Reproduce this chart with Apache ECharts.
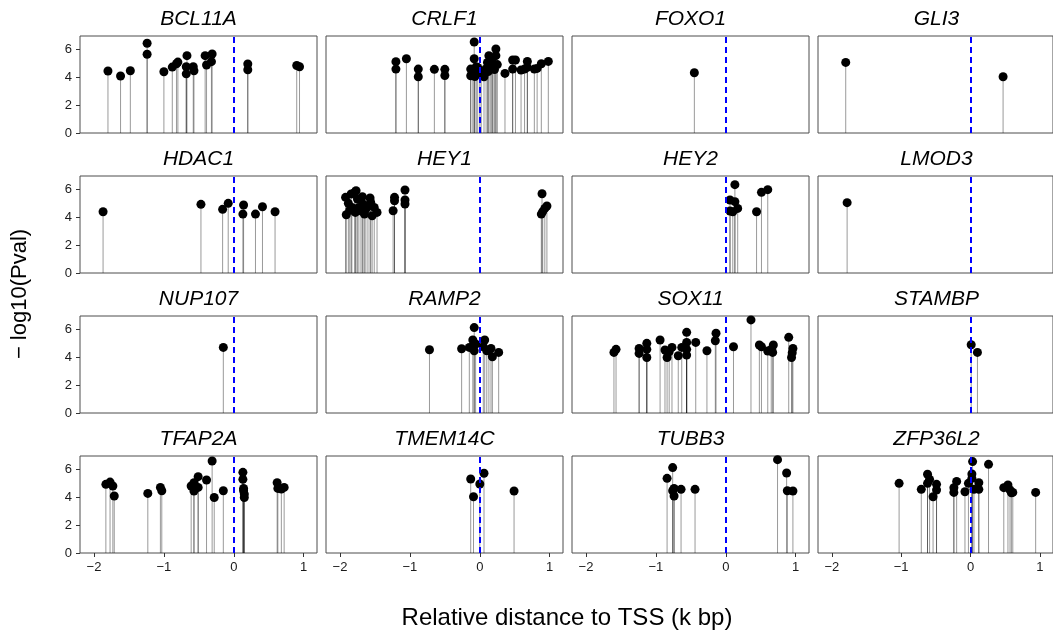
<!DOCTYPE html>
<html>
<head>
<meta charset="utf-8">
<script src="https://cdn.jsdelivr.net/npm/echarts@6/dist/echarts.min.js"></script>
<style>
  html, body { margin: 0; padding: 0; background: #fff; }
  #main { width: 1053px; height: 633px; }
</style>
</head>
<body>
<div id="main"></div>
<script>
// panel order (4 x 4 facets)
const genes = ['BCL11A', 'CRLF1', 'FOXO1', 'GLI3', 'HDAC1', 'HEY1', 'HEY2', 'LMOD3',
  'NUP107', 'RAMP2', 'SOX11', 'STAMBP', 'TFAP2A', 'TMEM14C', 'TUBB3', 'ZFP36L2']

const xTicks = [-2, -1, 0, 1]
const yTicks = [0, 2, 4, 6]

// [relative distance to TSS (k bp), -log10(Pval)]
const BCL11A = [[-1.80, 4.44], [-1.62, 4.08], [-1.48, 4.46], [-1.24, 6.43], [-1.24, 5.64], [-1.00, 4.39],
  [-0.88, 4.72], [-0.82, 4.96], [-0.80, 5.08], [-0.67, 5.54], [-0.68, 4.75], [-0.68, 4.24], [-0.58, 4.75],
  [-0.57, 4.46], [-0.41, 5.54], [-0.39, 4.87], [-0.32, 5.11], [-0.31, 5.66], [0.20, 4.94], [0.20, 4.53],
  [0.90, 4.84], [0.94, 4.75]]
const CRLF1 = [[-1.20, 5.11], [-1.20, 4.58], [-1.05, 5.32], [-0.88, 4.58], [-0.88, 4.03], [-0.65, 4.56],
  [-0.50, 4.56], [-0.50, 4.12], [-0.08, 6.52], [-0.08, 5.32], [-0.13, 4.58], [-0.13, 4.10], [-0.10, 4.40],
  [-0.05, 4.75], [-0.03, 4.70], [0.00, 4.50], [0.02, 4.20], [-0.07, 4.05], [0.06, 4.03], [0.09, 4.60],
  [0.11, 5.06], [0.13, 5.54], [0.15, 4.80], [0.17, 5.20], [0.19, 4.70], [0.21, 4.55], [0.23, 6.02],
  [0.23, 5.54], [0.18, 4.87], [0.25, 4.90], [0.12, 4.40], [0.36, 4.27], [0.47, 5.23], [0.51, 5.23],
  [0.47, 4.58], [0.59, 4.51], [0.64, 4.58], [0.68, 5.13], [0.68, 4.70], [0.78, 4.58], [0.82, 4.63],
  [0.88, 4.96], [0.98, 5.13]]
const FOXO1 = [[-0.45, 4.32]]
const GLI3 = [[-1.80, 5.06], [0.47, 4.03]]
const HDAC1 = [[-1.87, 4.39], [-0.47, 4.92], [-0.16, 4.56], [-0.08, 4.99], [0.14, 4.87], [0.13, 4.22],
  [0.31, 4.22], [0.41, 4.75], [0.59, 4.39]]
const HEY1 = [[-1.92, 5.42], [-1.91, 4.17], [-1.88, 4.99], [-1.84, 5.66], [-1.79, 5.78], [-1.77, 5.90],
  [-1.83, 4.70], [-1.78, 4.34], [-1.75, 5.30], [-1.73, 4.70], [-1.68, 5.47], [-1.67, 4.94], [-1.65, 4.22],
  [-1.63, 4.58], [-1.57, 5.37], [-1.56, 5.06], [-1.54, 4.10], [-1.51, 4.70], [-1.47, 4.34], [-1.86, 4.50],
  [-1.70, 4.45], [-1.60, 4.80], [-1.24, 4.46], [-1.22, 5.42], [-1.22, 5.18], [-1.07, 5.95], [-1.07, 5.23],
  [-1.07, 4.94], [0.89, 5.68], [0.88, 4.22], [0.90, 4.40], [0.93, 4.63], [0.96, 4.80]]
const HEY2 = [[0.13, 6.33], [0.06, 5.23], [0.13, 5.11], [0.06, 4.44], [0.10, 4.39], [0.17, 4.63],
  [0.44, 4.39], [0.51, 5.78], [0.60, 5.97]]
const LMOD3 = [[-1.78, 5.04]]
const NUP107 = [[-0.15, 4.70]]
const RAMP2 = [[-0.72, 4.53], [-0.26, 4.60], [-0.15, 4.70], [-0.08, 6.12], [-0.10, 5.23], [-0.08, 4.46],
  [-0.06, 4.94], [0.07, 5.23], [0.05, 4.75], [0.10, 4.46], [0.16, 4.63], [0.18, 4.03], [0.27, 4.34],
  [0.13, 4.50]]
const SOX11 = [[-1.60, 4.34], [-1.57, 4.56], [-1.24, 4.63], [-1.24, 4.27], [-1.13, 4.99], [-1.13, 4.56],
  [-1.13, 3.98], [-0.94, 5.23], [-0.87, 4.51], [-0.84, 3.98], [-0.81, 4.39], [-0.77, 4.70], [-0.68, 4.10],
  [-0.63, 4.70], [-0.56, 5.78], [-0.56, 5.06], [-0.56, 4.15], [-0.56, 4.56], [-0.43, 5.06], [-0.27, 4.46],
  [-0.15, 5.18], [-0.14, 5.71], [0.11, 4.75], [0.36, 6.67], [0.48, 4.87], [0.51, 4.75], [0.60, 4.44],
  [0.65, 4.56], [0.68, 4.87], [0.67, 4.34], [0.90, 5.42], [0.94, 3.98], [0.96, 4.63], [0.95, 4.32]]
const STAMBP = [[0.01, 4.89], [0.10, 4.34]]
const TFAP2A = [[-1.83, 4.92], [-1.77, 5.08], [-1.73, 4.80], [-1.71, 4.08], [-1.23, 4.27], [-1.05, 4.70],
  [-1.03, 4.46], [-0.61, 4.80], [-0.57, 4.44], [-0.57, 5.04], [-0.51, 4.70], [-0.51, 5.47], [-0.39, 5.23],
  [-0.31, 6.59], [-0.28, 3.98], [-0.15, 4.46], [0.13, 5.78], [0.13, 5.28], [0.14, 4.63], [0.14, 4.46],
  [0.15, 4.22], [0.15, 3.98], [0.62, 5.04], [0.63, 4.63], [0.68, 4.58], [0.72, 4.70]]
const TMEM14C = [[-0.13, 5.30], [-0.09, 4.03], [0.00, 4.94], [0.06, 5.71], [0.49, 4.44]]
const TUBB3 = [[-0.84, 5.35], [-0.76, 6.12], [-0.76, 4.46], [-0.74, 4.63], [-0.74, 4.08], [-0.64, 4.56],
  [-0.44, 4.56], [0.74, 6.69], [0.87, 5.73], [0.88, 4.46], [0.96, 4.44]]
const ZFP36L2 = [[-1.03, 4.99], [-0.71, 4.56], [-0.62, 5.64], [-0.62, 4.99], [-0.59, 5.28], [-0.54, 4.03],
  [-0.49, 4.92], [-0.49, 4.51], [-0.24, 4.68], [-0.24, 4.34], [-0.20, 5.13], [-0.08, 4.39], [-0.03, 4.99],
  [0.03, 6.55], [0.02, 5.66], [0.02, 5.35], [0.05, 4.56], [0.12, 5.04], [0.12, 4.56], [0.26, 6.35],
  [0.48, 4.68], [0.54, 4.87], [0.57, 4.51], [0.59, 4.32], [0.61, 4.34], [0.94, 4.34]]

const panelData = { BCL11A, CRLF1, FOXO1, GLI3, HDAC1, HEY1, HEY2, LMOD3,
  NUP107, RAMP2, SOX11, STAMBP, TFAP2A, TMEM14C, TUBB3, ZFP36L2 }

const font = 'Liberation Sans, Arial, Helvetica, sans-serif'
const left0 = 80, top0 = 36, stepX = 246, stepY = 140, panelW = 237, panelH = 97

var grid = [], xAxis = [], yAxis = [], title = [], series = []
genes.forEach(function (g, i) {
  var r = Math.floor(i / 4), c = i % 4
  var left = left0 + c * stepX, top = top0 + r * stepY
  grid.push({ left: left, top: top, width: panelW, height: panelH, show: true,
    borderColor: '#4d4d4d', borderWidth: 1, backgroundColor: '#fff' })
  title.push({ text: g, left: left + panelW / 2, top: top - 27, textAlign: 'center', padding: 0,
    textStyle: { fontFamily: font, fontStyle: 'italic', fontWeight: 'normal', fontSize: 21, color: '#000' } })
  xAxis.push({ type: 'value', gridIndex: i, min: -2.2, max: 1.19,
    splitLine: { show: false }, axisLine: { show: false, onZero: false },
    axisTick: { show: r === 3, length: 4, customValues: xTicks, lineStyle: { color: '#333' } },
    axisLabel: { show: r === 3, customValues: xTicks, margin: 8, fontFamily: font, fontSize: 13, color: '#1a1a1a',
      formatter: function (v) { return v < 0 ? '\u2212' + Math.abs(v) : String(v) } } })
  yAxis.push({ type: 'value', gridIndex: i, min: 0, max: 6.95,
    splitLine: { show: false }, axisLine: { show: false, onZero: false },
    axisTick: { show: c === 0, length: 4, customValues: yTicks, lineStyle: { color: '#333' } },
    axisLabel: { show: c === 0, customValues: yTicks, margin: 8, fontFamily: font, fontSize: 13, color: '#1a1a1a' } })
  // stems
  series.push({ type: 'custom', xAxisIndex: i, yAxisIndex: i, data: panelData[g], encode: { x: 0, y: 1 },
    renderItem: function (params, api) {
      var tip = api.coord([api.value(0), api.value(1)])
      var base = api.coord([api.value(0), 0])
      return { type: 'line', shape: { x1: tip[0], y1: tip[1], x2: base[0], y2: base[1] },
        style: { stroke: 'rgba(0,0,0,0.4)', lineWidth: 1 } }
    } })
  // heads + TSS line
  series.push({ type: 'scatter', xAxisIndex: i, yAxisIndex: i, data: panelData[g],
    symbolSize: 9, itemStyle: { color: '#000', opacity: 1 }, z: 3,
    markLine: { silent: true, symbol: 'none', label: { show: false },
      lineStyle: { color: '#0000ff', type: [6, 4], width: 2, opacity: 1 }, data: [{ xAxis: 0 }] } })
})

var chart = echarts.init(document.getElementById('main'))
chart.setOption({
  animation: false,
  title: title,
  grid: grid,
  xAxis: xAxis,
  yAxis: yAxis,
  series: series,
  graphic: [
    { type: 'text', x: 567, y: 618, style: { text: 'Relative distance to TSS (k bp)',
      font: '24px ' + font, fill: '#000', align: 'center', verticalAlign: 'middle' } },
    { type: 'text', x: 20, y: 294, rotation: Math.PI / 2, style: { text: '\u2212 log10(Pval)',
      font: '22px ' + font, fill: '#000', align: 'center', verticalAlign: 'middle' } }
  ]
})
</script>
</body>
</html>
